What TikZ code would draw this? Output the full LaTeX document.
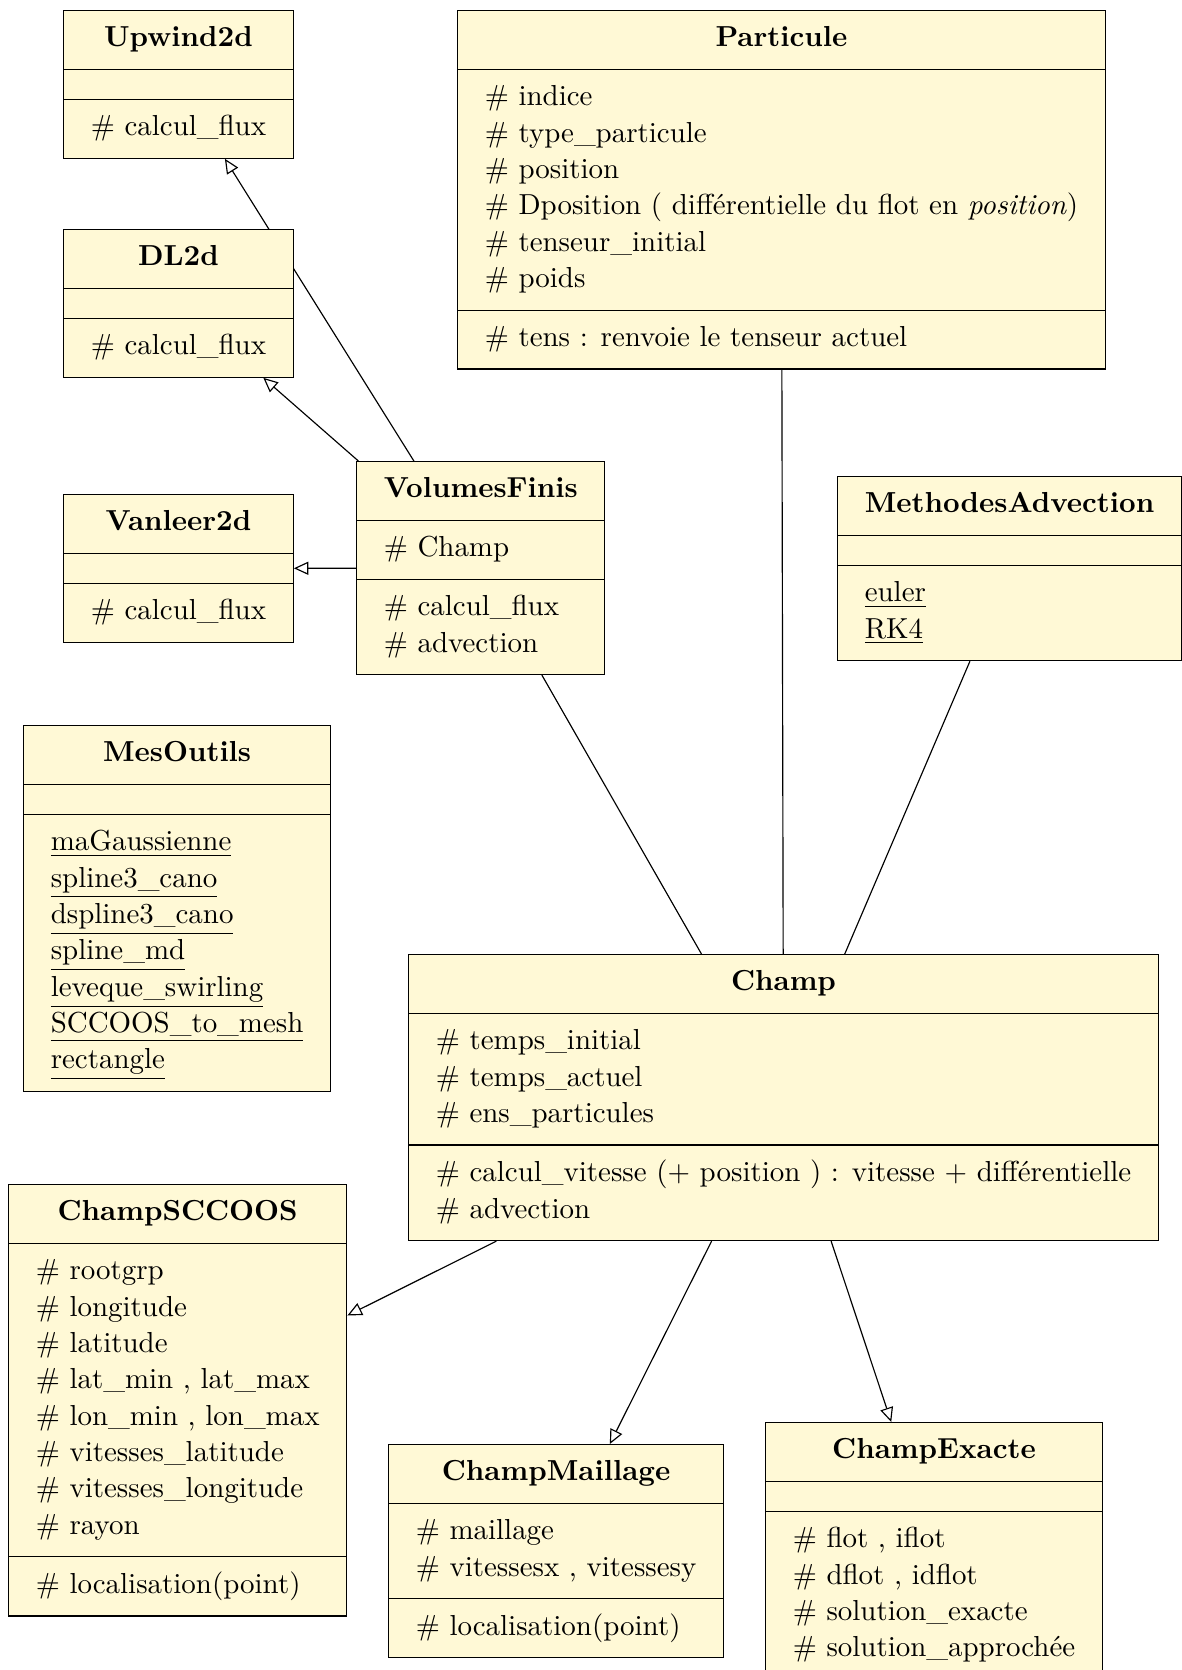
\documentclass[tikz,border=0pt]{standalone}
\usepackage{tikz}
\usetikzlibrary{arrows.meta, shapes.multipart, backgrounds}

\definecolor{classfill}{RGB}{255,249,214}

% one row of a class box, fixed height and depth
\newcommand{\rowstrut}{\rule[-2.6pt]{0pt}{10pt}}
\newcommand{\cname}[1]{\rowstrut\textbf{#1}}
\newcommand{\prot}[1]{\rowstrut\# #1}
\newcommand{\stat}[1]{\rowstrut\smash{\underline{#1}}}
\newcommand{\nomember}{\hbox to 1pt{}}

\begin{document}
\begin{tikzpicture}[
    x=0.3455pt, y=-0.3455pt,
    umlclass/.style={draw, fill=classfill, anchor=north west,
                     rectangle split, rectangle split parts=3,
                     rectangle split part align={center, left, left},
                     align=left, inner xsep=9.4pt, inner ysep=4.97pt,
                     font=\fontsize{10}{12.56}\selectfont},
    inherit/.style={-{Triangle[open, length=5pt, width=4.5pt]}}
  ]
  \clip (0, 0) rectangle (1182, 1670);

  % Schemas
  \node[umlclass] (upwind) at (63, 10) {\cname{Upwind2d}
    \nodepart{two}\nomember
    \nodepart{three}\prot{calcul\_flux}};
  \node[umlclass] (dl) at (63, 229) {\cname{DL2d}
    \nodepart{two}\nomember
    \nodepart{three}\prot{calcul\_flux}};
  \node[umlclass] (vanleer) at (63, 494) {\cname{Vanleer2d}
    \nodepart{two}\nomember
    \nodepart{three}\prot{calcul\_flux}};
  \node[umlclass] (volumes) at (356, 461) {\cname{VolumesFinis}
    \nodepart{two}\prot{Champ}
    \nodepart{three}\prot{calcul\_flux}\\ \prot{advection}};

  % Particule and advection methods
  \node[umlclass] (particule) at (457, 10) {\cname{Particule}
    \nodepart{two}\prot{indice}\\ \prot{type\_particule}\\ \prot{position}\\
      \prot{Dposition ( différentielle du flot en \textit{position})}\\
      \prot{tenseur\_initial}\\ \prot{poids}
    \nodepart{three}\prot{tens : renvoie le tenseur actuel}};
  \node[umlclass] (methodes) at (837, 476) {\cname{MethodesAdvection}
    \nodepart{two}\nomember
    \nodepart{three}\stat{euler}\\ \stat{RK4}};

  % Tools
  \node[umlclass] (outils) at (23, 725) {\cname{MesOutils}
    \nodepart{two}\nomember
    \nodepart{three}\stat{maGaussienne}\\ \stat{spline3\_cano}\\
      \stat{dspline3\_cano}\\ \stat{spline\_md}\\ \stat{leveque\_swirling}\\
      \stat{SCCOOS\_to\_mesh}\\ \stat{rectangle}};

  % Fields
  \node[umlclass] (champ) at (408, 954) {\cname{Champ}
    \nodepart{two}\prot{temps\_initial}\\ \prot{temps\_actuel}\\
      \prot{ens\_particules}
    \nodepart{three}\prot{calcul\_vitesse (+ position ) : vitesse + différentielle}\\
      \prot{advection}};
  \node[umlclass] (sccoos) at (8, 1184) {\cname{ChampSCCOOS}
    \nodepart{two}\prot{rootgrp}\\ \prot{longitude}\\ \prot{latitude}\\
      \prot{lat\_min , lat\_max}\\ \prot{lon\_min , lon\_max}\\
      \prot{vitesses\_latitude}\\ \prot{vitesses\_longitude}\\ \prot{rayon}
    \nodepart{three}\prot{localisation(point)}};
  \node[umlclass] (maillage) at (388, 1444) {\cname{ChampMaillage}
    \nodepart{two}\prot{maillage}\\ \prot{vitessesx , vitessesy}
    \nodepart{three}\prot{localisation(point)}};
  \node[umlclass] (exacte) at (765, 1422) {\cname{ChampExacte}
    \nodepart{two}\nomember
    \nodepart{three}\prot{flot , iflot}\\ \prot{dflot , idflot}\\
      \prot{solution\_exacte}\\ \prot{solution\_approchée}};

  % Links
  \begin{scope}[on background layer]
    \foreach \c in {upwind, dl, vanleer}
      \draw[inherit] (volumes) -- (\c);
    \foreach \c in {volumes, particule, methodes}
      \draw (\c) -- (champ);
    \foreach \c in {sccoos, maillage, exacte}
      \draw[inherit] (champ) -- (\c);
  \end{scope}
\end{tikzpicture}
\end{document}
